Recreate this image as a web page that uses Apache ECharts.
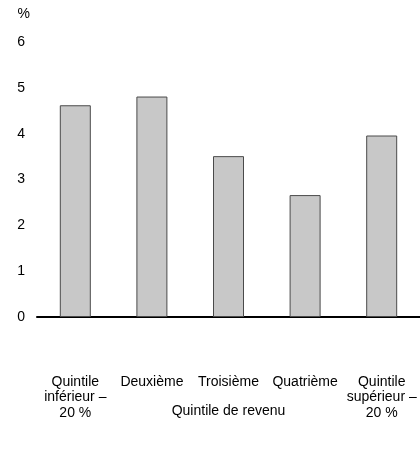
<!DOCTYPE html>
<html>
<head>
<meta charset="utf-8">
<script src="https://cdn.jsdelivr.net/npm/echarts@6/dist/echarts.min.js"></script>
<style>html,body{margin:0;padding:0;background:#fff;}#c{width:420px;height:467px;}</style>
</head>
<body>
<div id="c"></div>
<script>
const categories = ["Quintile\ninférieur –\n20 %", "Deuxième", "Troisième", "Quatrième", "Quintile\nsupérieur –\n20 %"];
const values = [4.62, 4.81, 3.51, 2.66, 3.96];
const yTicks = [0, 1, 2, 3, 4, 5, 6];
const xTitle = "Quintile de revenu";
const yUnit = "%";

const FONT = 'Liberation Sans, Arial, sans-serif';
const chart = echarts.init(document.getElementById('c'), null, {renderer: 'canvas'});
chart.setOption({
  animation: false,
  backgroundColor: '#ffffff',
  textStyle: {fontFamily: FONT},
  grid: {left: 37, right: 0, top: 42, bottom: 150, containLabel: false},
  xAxis: {
    type: 'category',
    data: categories,
    name: xTitle,
    nameLocation: 'middle',
    nameGap: 94,
    nameMoveOverlap: false,
    nameTextStyle: {color: '#000', fontSize: 14, fontFamily: FONT, verticalAlign: 'middle'},
    axisLine: {lineStyle: {color: '#000', width: 2}},
    axisTick: {show: false},
    axisLabel: {color: '#000', fontSize: 14, lineHeight: 15.5, margin: 57, interval: 0, fontFamily: FONT, verticalAlign: 'top'}
  },
  yAxis: {
    type: 'value',
    min: yTicks[0],
    max: yTicks[yTicks.length - 1],
    interval: 1,
    name: yUnit,
    nameLocation: 'end',
    nameGap: 21,
    nameTextStyle: {color: '#000', fontSize: 14, align: 'right', padding: [0, 7, 0, 0], fontFamily: FONT},
    axisLine: {show: false},
    axisTick: {show: false},
    splitLine: {show: false},
    axisLabel: {color: '#000', fontSize: 14, margin: 12, fontFamily: FONT}
  },
  series: [{
    type: 'bar',
    data: values,
    barWidth: 31,
    itemStyle: {color: '#c8c8c8', borderColor: '#4a4a4a', borderWidth: 1}
  }]
});
</script>
</body>
</html>
